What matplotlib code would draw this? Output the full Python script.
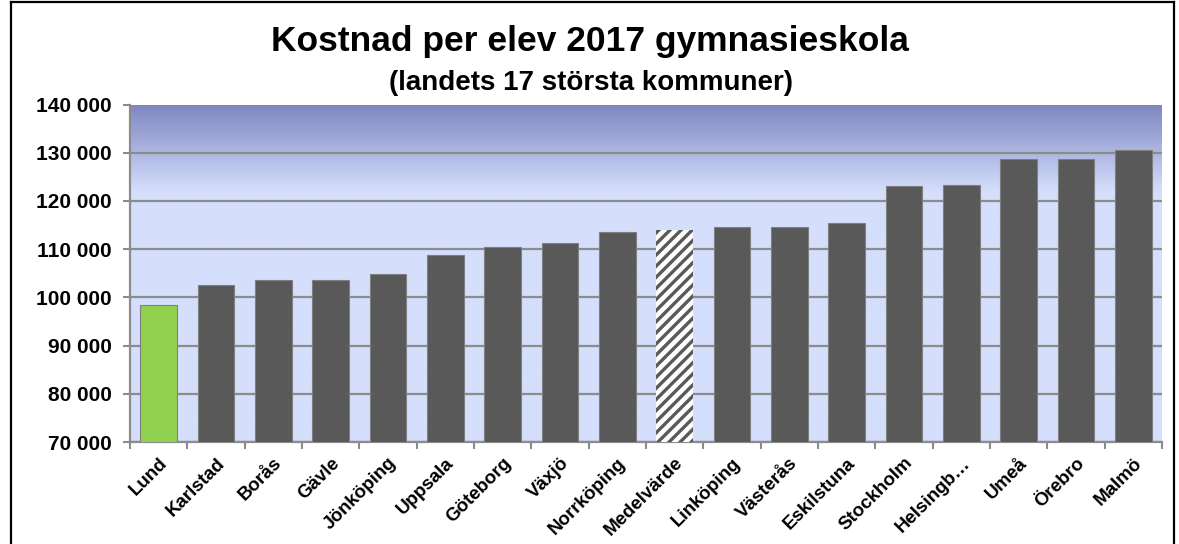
import numpy as np
import matplotlib
matplotlib.use("Agg")
import matplotlib.pyplot as plt
from matplotlib.lines import Line2D

plt.rcParams['font.family'] = ['Liberation Sans', 'DejaVu Sans']
plt.rcParams['hatch.linewidth'] = 2.4
plt.rcParams['hatch.color'] = '#595959'

kommuner = ["Lund", "Karlstad", "Borås", "Gävle", "Jönköping", "Uppsala",
            "Göteborg", "Växjö", "Norrköping", "Medelvärde", "Linköping",
            "Västerås", "Eskilstuna", "Stockholm", "Helsingb…", "Umeå",
            "Örebro", "Malmö"]
kostnad = [98400, 102600, 103500, 103500, 104900, 108800,
           110500, 111250, 113500, 113900, 114650,
           114650, 115400, 123100, 123400, 128600,
           128600, 130500]
y_ticks = [70000, 80000, 90000, 100000, 110000, 120000, 130000, 140000]

fig = plt.figure(figsize=(11.79, 5.44), dpi=100)
ax = fig.add_axes([0.1103, 0.1875, 0.8753, 0.6204])

# background gradient (dark blue-purple at top fading to light blue)
top_col = np.array([127, 134, 194]) / 255
light_col = np.array([213, 223, 252]) / 255
n = 400
t = np.linspace(0, 1, n)  # 0 = top
frac = np.clip(t / 0.26, 0, 1)
cols = top_col[None, :] * (1 - frac[:, None]) + light_col[None, :] * frac[:, None]
grad = cols[:, None, :]
ax.imshow(grad, extent=[0, 1, 0, 1], transform=ax.transAxes, aspect='auto',
          zorder=0, interpolation='bilinear')

x = np.arange(len(kommuner))
colors = ['#92D050'] + ['#595959'] * (len(kommuner) - 1)
bars = ax.bar(x, kostnad, width=0.64, color=colors, edgecolor='#7F7F7F',
              linewidth=0.8, zorder=3)
mi = kommuner.index("Medelvärde")
bars[mi].set_facecolor('white')
bars[mi].set_hatch('///')
bars[mi].set_edgecolor('#595959')
bars[mi].set_linewidth(0)

ax.set_xlim(-0.5, len(kommuner) - 0.5)
ax.set_ylim(70000, 140000)
ax.set_yticks(y_ticks)
ax.set_yticklabels([f"{v:,}".replace(",", " ") for v in y_ticks],
                   fontsize=15, fontweight='bold')
ax.yaxis.grid(True, color='#8C8C8C', linewidth=1.6, zorder=1)
ax.set_axisbelow(True)

ax.set_xticks(x)
ax.set_xticklabels(kommuner, rotation=45, ha='right', rotation_mode='anchor',
                   fontsize=13.5, fontweight='bold')
ax.set_xticks(np.arange(-0.5, len(kommuner)), minor=True)
ax.tick_params(axis='x', which='major', length=0, pad=9)
ax.tick_params(axis='x', which='minor', length=5, color='#8C8C8C', width=1.5)
ax.tick_params(axis='y', length=5, color='#8C8C8C', width=1.5, pad=8)

for side in ['left', 'bottom']:
    ax.spines[side].set_color('#8C8C8C')
    ax.spines[side].set_linewidth(1.6)
ax.spines['right'].set_visible(False)
ax.spines['top'].set_visible(False)

fig.text(0.5, 1 - 42 / 544, "Kostnad per elev 2017 gymnasieskola",
         ha='center', va='center', fontsize=25.5, fontweight='bold')
fig.text(0.5015, 1 - 83 / 544, "(landets 17 största kommuner)",
         ha='center', va='center', fontsize=20, fontweight='bold')

# outer chart frame
W, H = 1179, 544
for xs, ys in [([10.5 / W, 10.5 / W], [-0.1, 1 - 2 / H]),
               ([10.5 / W, 1174 / W], [1 - 2 / H, 1 - 2 / H]),
               ([1174 / W, 1174 / W], [1 - 2 / H, -0.1])]:
    fig.add_artist(Line2D(xs, ys, color='black', linewidth=1.6,
                          transform=fig.transFigure))

fig.savefig("out.png", dpi=100)
